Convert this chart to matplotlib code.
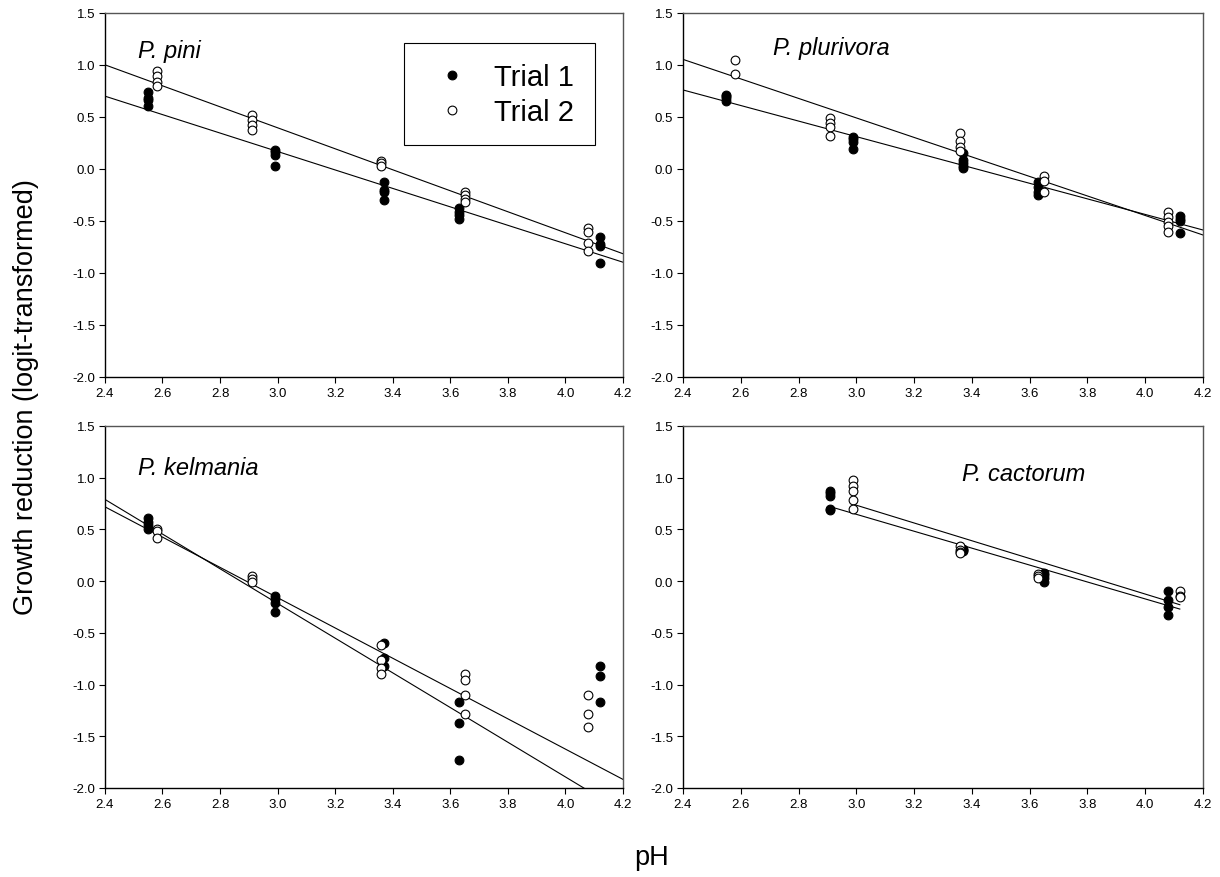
import matplotlib.pyplot as plt
import numpy as np

plt.rcParams['font.family'] = ['Liberation Sans', 'DejaVu Sans']
plt.rcParams['axes.unicode_minus'] = False

# pH levels and replicate growth reduction values (logit), Trial 1 / Trial 2
pini_ph1 = [2.55, 2.99, 3.37, 3.63, 4.12]
pini_t1 = [[0.74, 0.68, 0.66, 0.61], [0.18, 0.16, 0.13, 0.03],
           [-0.13, -0.20, -0.22, -0.30], [-0.38, -0.41, -0.44, -0.48],
           [-0.65, -0.72, -0.74, -0.90]]
pini_ph2 = [2.58, 2.91, 3.36, 3.65, 4.08]
pini_t2 = [[0.94, 0.89, 0.84, 0.80], [0.52, 0.47, 0.42, 0.37],
           [0.08, 0.06, 0.03], [-0.22, -0.25, -0.29, -0.32],
           [-0.57, -0.61, -0.71, -0.79]]

pluri_ph1 = [2.55, 2.99, 3.37, 3.63, 4.12]
pluri_t1 = [[0.71, 0.70, 0.68, 0.65], [0.31, 0.29, 0.26, 0.19],
            [0.15, 0.09, 0.06, 0.03, 0.01], [-0.13, -0.17, -0.22, -0.25],
            [-0.45, -0.48, -0.50, -0.62]]
pluri_ph2 = [2.58, 2.91, 3.36, 3.65, 4.08]
pluri_t2 = [[1.05, 0.91], [0.49, 0.44, 0.40, 0.32],
            [0.35, 0.27, 0.21, 0.17], [-0.07, -0.12, -0.22],
            [-0.41, -0.46, -0.51, -0.55, -0.61]]

kelm_ph1 = [2.55, 2.99, 3.37, 3.63, 4.12]
kelm_t1 = [[0.61, 0.57, 0.54, 0.50], [-0.14, -0.17, -0.21, -0.30],
           [-0.60, -0.74, -0.82], [-1.17, -1.37, -1.73],
           [-0.82, -0.92, -1.17]]
kelm_ph2 = [2.58, 2.91, 3.36, 3.65, 4.08]
kelm_t2 = [[0.50, 0.48, 0.42], [0.05, 0.02, -0.01],
           [-0.62, -0.76, -0.84, -0.90], [-0.90, -0.96, -1.10, -1.28],
           [-1.10, -1.28, -1.41]]

cact_ph1 = [2.91, 3.37, 3.65, 4.08]
cact_t1 = [[0.87, 0.85, 0.82, 0.70, 0.69], [0.31, 0.30, 0.29],
           [0.08, 0.06, 0.03, -0.01], [-0.10, -0.18, -0.25, -0.33]]
cact_ph2 = [2.99, 3.36, 3.63, 4.12]
cact_t2 = [[0.98, 0.92, 0.87, 0.78, 0.70], [0.34, 0.30, 0.28, 0.27],
           [0.07, 0.05, 0.03], [-0.10, -0.14, -0.15]]

# fitted regression lines: (intercept, slope, pH from, pH to)
pini_fit = [(2.829, -0.887, 2.4, 4.2), (3.423, -1.009, 2.4, 4.2)]
pluri_fit = [(2.555, -0.748, 2.4, 4.2), (3.305, -0.938, 2.4, 4.2)]
kelm_fit = [(4.815, -1.677, 2.4, 4.2), (4.232, -1.464, 2.4, 4.2)]
cact_fit = [(3.100, -0.818, 2.91, 4.12), (3.311, -0.859, 2.99, 4.12)]


def draw_panel(ax, name, ph1, t1, ph2, t2, fits, lx, ly):
    for b, m, x0, x1 in fits:
        xs = np.array([x0, x1])
        ax.plot(xs, b + m * xs, color='black', lw=0.8, zorder=1)
    x = np.repeat(ph1, [len(v) for v in t1])
    y = np.concatenate(t1)
    ax.plot(x, y, 'o', ms=6.3, mfc='black', mec='black', mew=0.8,
            ls='none', label='Trial 1', zorder=2)
    x = np.repeat(ph2, [len(v) for v in t2])
    y = np.concatenate(t2)
    ax.plot(x, y, 'o', ms=6.3, mfc='white', mec='black', mew=0.8,
            ls='none', label='Trial 2', zorder=3)

    ax.text(lx, ly, name, transform=ax.transAxes, fontsize=17,
            style='italic', ha='left', va='baseline')

    ax.set_xlim(2.4, 4.2)
    ax.set_ylim(-2.0, 1.5)
    ax.set_xticks(np.arange(2.4, 4.21, 0.2))
    ax.set_yticks(np.arange(-2.0, 1.51, 0.5))
    ax.xaxis.set_major_formatter('{x:.1f}')
    ax.yaxis.set_major_formatter('{x:.1f}')
    ax.tick_params(direction='out', length=4, width=0.8, labelsize=9.5,
                   colors='black', pad=3)
    for s in ['top', 'right']:
        ax.spines[s].set_color('#555555')
    for s in ax.spines.values():
        s.set_linewidth(1.0)


fig = plt.figure(figsize=(12.2, 8.78), dpi=100)

ax1 = fig.add_axes([0.086, 0.5695, 0.4246, 0.4146])
ax2 = fig.add_axes([0.5598, 0.5695, 0.4262, 0.4146])
ax3 = fig.add_axes([0.086, 0.1014, 0.4246, 0.4123])
ax4 = fig.add_axes([0.5598, 0.1014, 0.4262, 0.4123])

draw_panel(ax1, 'P. pini', pini_ph1, pini_t1, pini_ph2, pini_t2, pini_fit, 0.064, 0.878)
draw_panel(ax2, 'P. plurivora', pluri_ph1, pluri_t1, pluri_ph2, pluri_t2, pluri_fit, 0.174, 0.887)
draw_panel(ax3, 'P. kelmania', kelm_ph1, kelm_t1, kelm_ph2, kelm_t2, kelm_fit, 0.063, 0.868)
draw_panel(ax4, 'P. cactorum', cact_ph1, cact_t1, cact_ph2, cact_t2, cact_fit, 0.536, 0.851)

leg = ax1.legend(loc='upper left', bbox_to_anchor=(0.577, 0.917, 0.37, 0.0),
                 mode='expand', fontsize=21, frameon=True, fancybox=False,
                 edgecolor='black', framealpha=1, borderaxespad=0,
                 borderpad=0.67, handlelength=1.95, handletextpad=0.46,
                 labelspacing=0.24, markerscale=1.0)
leg.get_frame().set_linewidth(0.8)

fig.text(0.021, 0.548, 'Growth reduction (logit-transformed)', rotation=90,
         fontsize=19.5, ha='center', va='center')
fig.text(0.534, 0.023, 'pH', fontsize=19.5, ha='center', va='center')

fig.savefig('out.png', dpi=100)
